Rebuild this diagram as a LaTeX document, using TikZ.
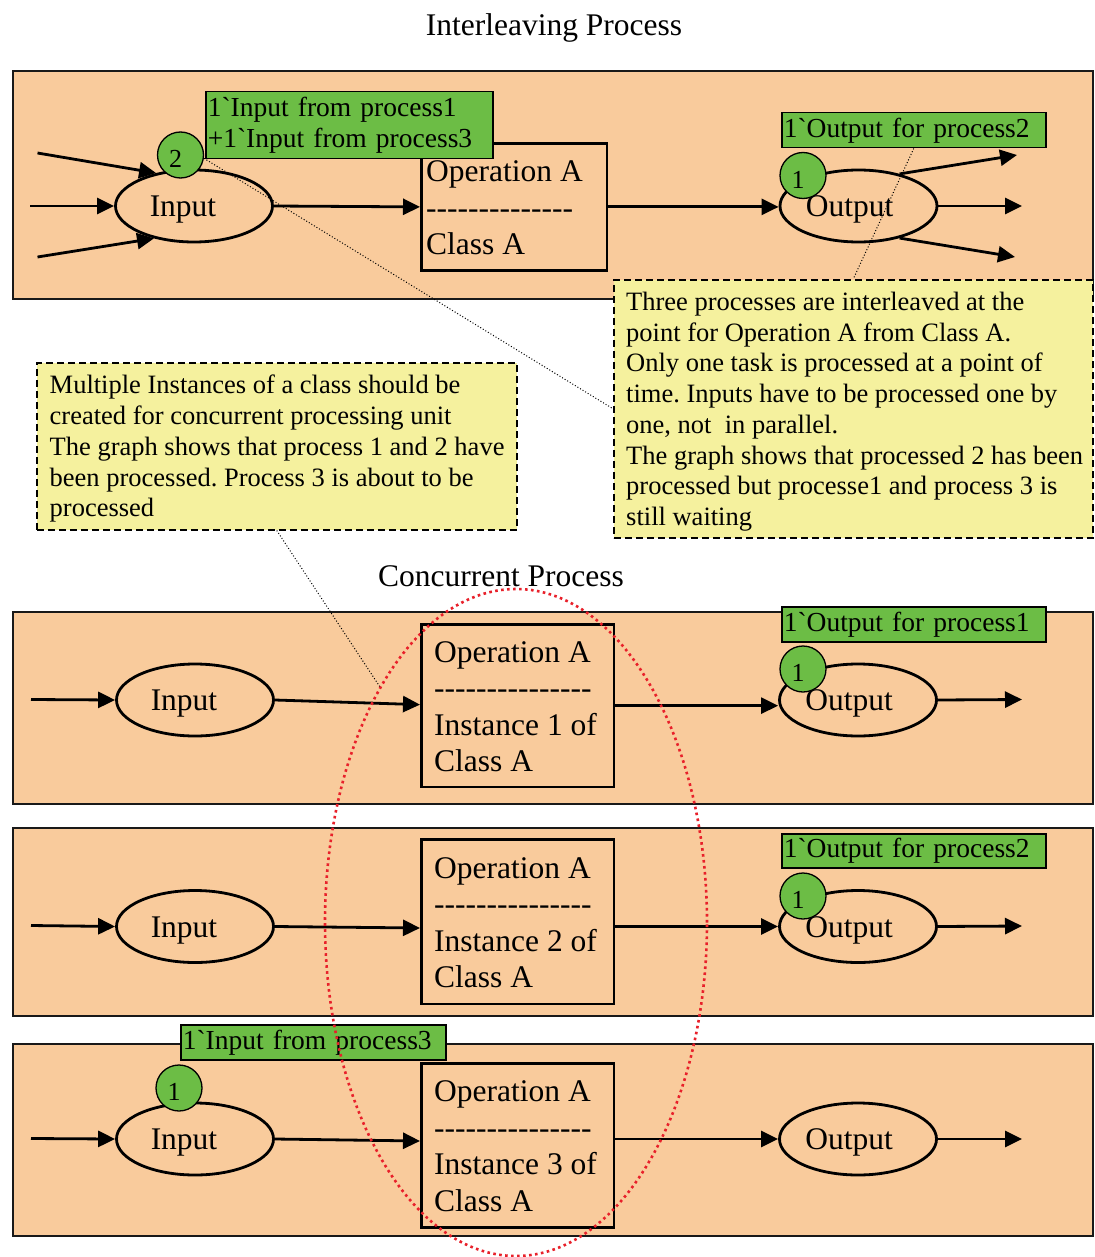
\documentclass[tikz,border=0pt]{standalone}
\usepackage{fontspec}
\newfontfamily\tms{Liberation Serif}
\usetikzlibrary{shapes.geometric,arrows.meta}
\definecolor{peach}{HTML}{F9CB9C}
\definecolor{tokgreen}{HTML}{6CBD45}
\definecolor{notey}{HTML}{F5F19E}
\definecolor{grpred}{HTML}{E8202A}
\frenchspacing

\begin{document}
\begin{tikzpicture}[x=1pt,y=-1pt,
  bigtxt/.style={font=\tms\fontsize{31.5}{36.5}\selectfont, inner sep=0pt},
  panel/.style={rectangle, draw=black!90, line width=1.8pt, fill=peach, anchor=north west, inner sep=0pt},
  place/.style={ellipse, draw, line width=2.8pt, minimum width=157pt, minimum height=72pt, inner sep=0pt},
  opbox/.style={rectangle, draw, line width=2.8pt, anchor=north west, inner sep=0pt},
  optxt/.style={bigtxt, align=left, anchor=west},
  token/.style={circle, draw, line width=1.3pt, fill=tokgreen, minimum size=46pt, inner sep=0pt},
  toktxt/.style={font=\tms\fontsize{26}{30}\selectfont, inner sep=0pt},
  tag/.style={rectangle, draw, line width=1.5pt, fill=tokgreen, anchor=north west, align=left,
    inner xsep=2pt, inner ysep=0pt, font=\tms\fontsize{27.5}{31.3}\selectfont},
  note/.style={rectangle, draw, line width=1.5pt, dash pattern=on 7pt off 4pt, fill=notey,
    anchor=north west, inner sep=0pt},
  notetxt/.style={font=\tms\fontsize{26.5}{30.75}\selectfont, align=left, anchor=west, inner sep=0pt},
  arr/.style={line width=2.8pt, -{Triangle[length=17pt,width=16pt]}},
  hint/.style={line width=1pt, dash pattern=on 1pt off 2pt},
  grp/.style={ellipse, draw=grpred, line width=2.6pt, dash pattern=on 2.6pt off 3.4pt,
    minimum width=382pt, minimum height=667pt, inner sep=0pt}
]
\useasboundingbox (0,0) rectangle (1094,1257);

% ---------- titles ----------
\node[bigtxt, anchor=base] (title1) at (554,36) {Interleaving Process};
\node[bigtxt, anchor=base] (title2) at (501,586) {Concurrent Process};

% ---------- panels ----------
\node[panel, minimum width=1080pt, minimum height=228pt] (p0) at (12,70) {};
\node[panel, minimum width=1080pt, minimum height=192pt] (p1) at (12,611) {};
\node[panel, minimum width=1080pt, minimum height=188pt] (p2) at (12,827) {};
\node[panel, minimum width=1080pt, minimum height=192pt] (p3) at (12,1043) {};

% ---------- interleaving process ----------
\node[place] (in0) at (194,206) {};
\node[bigtxt, anchor=base, xshift=-11pt, yshift=-10.5pt] (in0n) at (in0) {Input};
\node[opbox, minimum width=185.5pt, minimum height=127pt] (op0) at (420,142) {};
\node[optxt, xshift=6pt, yshift=-1pt] (op0n) at (op0.west)
  {Operation A\\--------------\\Class A};
\node[place] (out0) at (858.5,206) {};
\node[bigtxt, anchor=base, xshift=-9pt, yshift=-10.5pt] (out0n) at (out0) {Output};

\coordinate (a0) at (37.5,153);
\coordinate (a1) at (30,206);
\coordinate (a2) at (37.5,257);
\coordinate (b0) at (1017,155);
\coordinate (b1) at (1022,206);
\coordinate (b2) at (1015,257);
\draw[arr] (a0) -- (in0.139);
\draw[arr] (a1) -- (in0.west);
\draw[arr] (a2) -- (in0.219);
\draw[arr] (in0.east) -- (op0.west);
\draw[arr] (op0.east) -- (op0.east -| out0.west);
\draw[arr] (out0.38) -- (b0);
\draw[arr] (out0.east) -- (b1);
\draw[arr] (out0.322) -- (b2);

\node[token] (tok0) at (180.5,155) {};
\node[toktxt, xshift=-5pt, yshift=-4pt] (tok0n) at (tok0) {2};
\node[tag, text width=283pt, minimum height=67pt] (tag0) at (205,91)
  {1`Input from process1\\+1`Input from process3};
\node[token] (otok0) at (803,175.5) {};
\node[toktxt, xshift=-5pt, yshift=-4pt] (otok0n) at (otok0) {1};
\node[tag, text width=260pt, minimum height=35pt] (otag0) at (781,112) {1`Output for process2};

% ---------- concurrent process: instance 1 ----------
\node[place] (in1) at (195,700) {};
\node[bigtxt, anchor=base, xshift=-11pt, yshift=-10.5pt] (in1n) at (in1) {Input};
\node[opbox, minimum width=192.5pt, minimum height=162.5pt] (op1) at (420,623) {};
\node[optxt, xshift=14pt, yshift=-1pt] (op1n) at (op1.west)
  {Operation A\\---------------\\Instance 1 of\\Class A};
\node[place] (out1) at (858,700) {};
\node[bigtxt, anchor=base, xshift=-9pt, yshift=-10.5pt] (out1n) at (out1) {Output};
\coordinate (c1) at (31,699.5);
\coordinate (d1) at (1022,699.5);
\draw[arr] (c1) -- (in1.west);
\draw[arr] (in1.east) -- ([yshift=1pt]op1.west);
\draw[arr] (op1.east) -- (op1.east -| out1.west);
\draw[arr] (out1.east) -- (d1);
\node[token] (otok1) at (803,669) {};
\node[toktxt, xshift=-5pt, yshift=-4pt] (otok1n) at (otok1) {1};
\node[tag, text width=260pt, minimum height=35pt] (otag1) at (781,606) {1`Output for process1};

% ---------- concurrent process: instance 2 ----------
\node[place] (in2) at (195,926.5) {};
\node[bigtxt, anchor=base, xshift=-11pt, yshift=-10.5pt] (in2n) at (in2) {Input};
\node[opbox, minimum width=192.5pt, minimum height=164.5pt] (op2) at (420,838) {};
\node[optxt, xshift=14pt, yshift=-1pt] (op2n) at (op2.west)
  {Operation A\\---------------\\Instance 2 of\\Class A};
\node[place] (out2) at (858,926.5) {};
\node[bigtxt, anchor=base, xshift=-9pt, yshift=-10.5pt] (out2n) at (out2) {Output};
\coordinate (c2) at (31,925.5);
\coordinate (d2) at (1022,926);
\draw[arr] (c2) -- (in2.west);
\draw[arr] (in2.east) -- ([yshift=-1.5pt]in2.east -| op2.west);
\draw[arr] (op2.east |- out2.west) -- (out2.west);
\draw[arr] (out2.east) -- (d2);
\node[token] (otok2) at (803,896) {};
\node[toktxt, xshift=-5pt, yshift=-4pt] (otok2n) at (otok2) {1};
\node[tag, text width=260pt, minimum height=34pt] (otag2) at (781,833) {1`Output for process2};

% ---------- concurrent process: instance 3 ----------
\node[place] (in3) at (195,1139) {};
\node[bigtxt, anchor=base, xshift=-11pt, yshift=-10.5pt] (in3n) at (in3) {Input};
\node[opbox, minimum width=192.5pt, minimum height=164pt] (op3) at (420,1062) {};
\node[optxt, xshift=14pt, yshift=-1pt] (op3n) at (op3.west)
  {Operation A\\---------------\\Instance 3 of\\Class A};
\node[place] (out3) at (858,1139) {};
\node[bigtxt, anchor=base, xshift=-9pt, yshift=-10.5pt] (out3n) at (out3) {Output};
\coordinate (c3) at (31,1138.5);
\coordinate (d3) at (1022,1139);
\draw[arr] (c3) -- (in3.west);
\draw[arr] (in3.east) -- ([yshift=-2pt]in3.east -| op3.west);
\draw[arr] (op3.east |- out3.west) -- (out3.west);
\draw[arr] (out3.east) -- (d3);
\node[token] (itok3) at (179,1088) {};
\node[toktxt, xshift=-5pt, yshift=-4pt] (itok3n) at (itok3) {1};
\node[tag, text width=261pt, minimum height=35pt] (itag3) at (180,1024) {1`Input from process3};

% ---------- notes ----------
\node[note, minimum width=479pt, minimum height=258pt] (noteR) at (613,279) {};
\node[notetxt, xshift=13pt, yshift=-3pt] (noteRt) at (noteR.west)
  {Three processes are interleaved at the\\
   point for Operation A from Class A.\\
   Only one task is processed at a point of\\
   time. Inputs have to be processed one by\\
   one, not \ in parallel.\\
   The graph shows that processed 2 has been\\
   processed but processe1 and process 3 is\\
   still waiting};
\node[note, minimum width=480pt, minimum height=167pt] (noteL) at (36,362) {};
\node[notetxt, xshift=13.5pt, yshift=-2.5pt] (noteLt) at (noteL.west)
  {Multiple Instances of a class should be\\
   created for concurrent processing unit\\
   The graph shows that process 1 and 2 have\\
   been processed. Process 3 is about to be\\
   processed};

% ---------- callout lines ----------
\coordinate (e1) at (380,687);
\draw[hint] (otag0.south) -- (noteR.north);
\draw[hint] (tok0.-8) -- (noteR.west);
\draw[hint] (noteL.south) -- (e1);

% ---------- group of concurrent instances ----------
\node[grp] (grp) at (516,922.5) {};
\end{tikzpicture}
\end{document}
